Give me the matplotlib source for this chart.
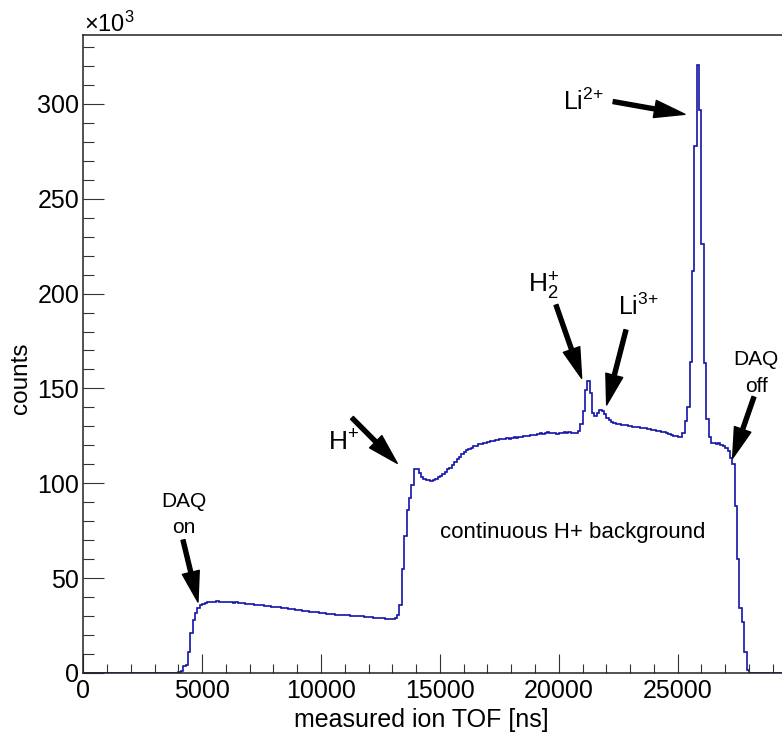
import numpy as np
import matplotlib
matplotlib.use("Agg")
import matplotlib.pyplot as plt

plt.rcParams["font.family"] = ["Liberation Sans", "DejaVu Sans"]
plt.rcParams["mathtext.default"] = "regular"

# histogram of measured ion TOF, 100 ns bins, counts in units of 10^3
bin_width = 100
counts = [
    # 0 - 4000 ns
    0, 0, 0, 0, 0, 0, 0, 0, 0, 0, 0, 0, 0, 0, 0, 0, 0, 0, 0, 0,
    0, 0, 0, 0, 0, 0, 0, 0, 0, 0, 0, 0, 0, 0, 0, 0, 0, 0, 0, 0,
    # 4000 - 5000 ns (DAQ on)
    0.3, 1.2, 3.5, 4.3, 11.0, 21.0, 28.0, 31.8, 34.0, 35.6,
    # 5000 - 10000 ns
    36.5, 37.0, 37.2, 37.5, 37.6, 37.6, 37.7, 37.5, 37.6, 37.4,
    37.5, 37.3, 37.3, 37.1, 37.2, 36.9, 36.9, 36.7, 36.6, 36.4,
    36.3, 36.2, 35.9, 35.9, 35.7, 35.6, 35.4, 35.3, 35.2, 34.9,
    34.9, 34.6, 34.6, 34.3, 34.2, 34.1, 33.8, 33.7, 33.6, 33.3,
    33.2, 33.0, 32.9, 32.6, 32.5, 32.3, 32.2, 31.9, 31.9, 31.7,
    # 10000 - 13000 ns
    31.6, 31.4, 31.3, 31.2, 31.0, 31.0, 30.8, 30.8, 30.6, 30.6,
    30.4, 30.4, 30.2, 30.2, 30.0, 30.0, 29.8, 29.8, 29.6, 29.6,
    29.4, 29.4, 29.2, 29.2, 29.0, 29.0, 28.8, 28.7, 28.6, 28.5,
    # 13000 - 14000 ns (H+ edge)
    28.6, 29.0, 30.5, 36.0, 55.0, 72.0, 86.0, 92.0, 99.0, 107.4,
    # 14000 - 20000 ns
    107.6, 105.3, 103.5, 102.3, 101.8, 101.5, 101.4, 101.7, 102.3, 103.1,
    103.8, 104.9, 105.8, 107.3, 108.2, 109.6, 111.0, 112.6, 113.8, 115.5,
    116.6, 117.4, 118.3, 118.6, 119.4, 119.8, 120.6, 120.7, 121.3, 121.5,
    122.0, 122.1, 122.5, 122.8, 122.7, 123.3, 123.4, 123.3, 123.8, 123.6,
    124.0, 124.2, 124.0, 124.5, 124.3, 124.7, 124.9, 124.7, 125.2, 125.5,
    125.3, 125.8, 126.3, 125.9, 126.4, 126.8, 126.3, 126.7, 126.5, 126.2,
    # 20000 - 25000 ns (H2+, Li3+)
    126.6, 126.3, 126.8, 126.5, 126.9, 126.5, 126.7, 126.4, 127.5, 131.0,
    138.0, 149.0, 154.0, 147.5, 137.0, 135.3, 136.8, 138.5, 138.2, 136.3,
    134.2, 133.1, 132.4, 132.0, 131.5, 131.4, 130.9, 130.8, 130.5, 130.4,
    130.1, 129.9, 129.8, 129.5, 129.4, 129.2, 128.9, 128.7, 128.6, 128.3,
    128.1, 127.8, 127.6, 127.1, 126.9, 126.4, 126.0, 125.5, 125.1, 124.7,
    # 25000 - 28000 ns (Li2+, DAQ off)
    124.4, 124.6, 126.5, 133.0, 140.0, 164.0, 212.0, 278.0, 320.5, 297.0,
    226.0, 163.5, 134.0, 124.6, 121.4, 121.2, 120.9, 121.0, 120.3, 119.9,
    118.6, 116.8, 113.5, 110.0, 88.0, 60.0, 34.0, 27.0, 11.0, 1.5,
    # 28000 - 29400 ns
    0, 0, 0, 0, 0, 0, 0, 0, 0, 0, 0, 0, 0, 0,
]
edges = np.arange(len(counts) + 1) * bin_width

x_max = 29390
y_max = 336.3

fig = plt.figure(figsize=(7.82, 7.34), dpi=100)
ax = fig.add_axes([83.3 / 782, 61 / 734, (782 - 83.3) / 782, 638 / 734])

ax.stairs(counts, edges, color="#1414a8", linewidth=1.2)

ax.set_xlim(0, x_max)
ax.set_ylim(0, y_max)

ax.set_xticks(np.arange(0, 29001, 5000))
ax.set_xticks(np.arange(0, 29401, 1000), minor=True)
ax.set_yticks(np.arange(0, 301, 50))
ax.set_yticks(np.arange(0, 331, 10), minor=True)

ax.tick_params(axis="both", which="both", direction="in", width=0.8,
               color="#333333", labelsize=18)
ax.tick_params(axis="x", which="major", length=14, pad=4)
ax.tick_params(axis="x", which="minor", length=6.8)
ax.tick_params(axis="y", which="major", length=15, pad=3)
ax.tick_params(axis="y", which="minor", length=8)

for side in ["left", "bottom", "top"]:
    ax.spines[side].set_linewidth(1.1)
    ax.spines[side].set_color("#222222")
ax.spines["right"].set_visible(False)

fig.text(84 / 782, 1 - 32 / 734, "×10$^{3}$", fontsize=17, ha="left", va="baseline")
fig.text(421 / 782, 1 - 727 / 734, "measured ion TOF [ns]", fontsize=18,
         ha="center", va="baseline")
fig.text(21 / 782, 1 - 378 / 734, "counts", fontsize=17.5, rotation=90,
         ha="center", va="center")

arrow = dict(facecolor="black", edgecolor="black", width=2.9, headwidth=12.5,
             headlength=22, shrink=0)

# DAQ on
ax.text(4236, 87.5, "DAQ", fontsize=15, ha="center", va="baseline")
ax.text(4236, 73.8, "on", fontsize=15, ha="center", va="baseline")
ax.annotate("", xy=(4824, 37.4), xytext=(4193, 70.1), arrowprops=arrow)

# H+
ax.text(10290, 117.5, "H$^{+}$", fontsize=19, ha="left", va="baseline")
ax.annotate("", xy=(13206, 110.5), xytext=(11300, 134.5), arrowprops=arrow)

# H2+
ax.text(18703, 200.8, "H$_{2}^{+}$", fontsize=19, ha="left", va="baseline")
ax.annotate("", xy=(20962, 155.3), xytext=(19882, 194.0), arrowprops=arrow)

# Li3+
ax.text(22490, 188.7, "Li$^{3{+}}$", fontsize=18, ha="left", va="baseline")
ax.annotate("", xy=(22014, 141.3), xytext=(22826, 180.8), arrowprops=arrow)

# Li2+
ax.text(20176, 296.8, "Li$^{2{+}}$", fontsize=18, ha="left", va="baseline")
ax.annotate("", xy=(25307, 294.5), xytext=(22291, 301.2), arrowprops=arrow)

# DAQ off
ax.text(28293, 162.4, "DAQ", fontsize=15, ha="center", va="baseline")
ax.text(28300, 148.1, "off", fontsize=15, ha="center", va="baseline")
ax.annotate("", xy=(27313, 113.2), xytext=(28209, 145.5), arrowprops=arrow)

ax.text(20596, 73.8, "continuous H+ background", fontsize=16,
        ha="center", va="center")

fig.savefig("out.png", dpi=100)
